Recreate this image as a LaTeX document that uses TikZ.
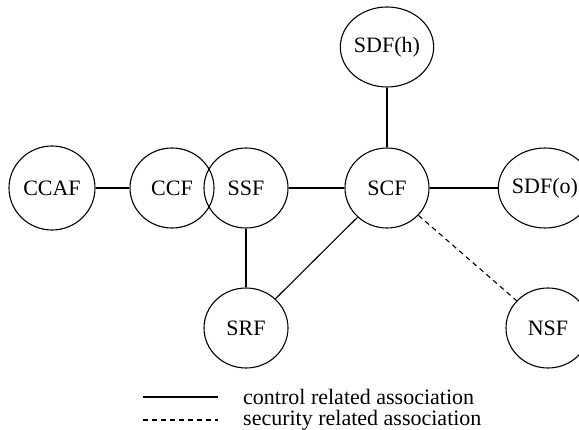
\documentclass[tikz,border=0pt]{standalone}
\usepackage{fontspec}
\setmainfont{Liberation Serif}
\usetikzlibrary{shapes.geometric, positioning}

\begin{document}
\begin{tikzpicture}[
  x=1pt, y=1pt,
  func/.style={draw, ellipse, line width=1.1pt, inner sep=0pt, minimum width=84pt, minimum height=80pt, font=\fontsize{22}{26}\selectfont},
  assoc/.style={line width=1.1pt},
  secassoc/.style={line width=1.1pt, dash pattern=on 5pt off 4pt},
  note/.style={anchor=west, inner sep=0pt, font=\fontsize{22}{24}\selectfont},
  on grid
]
\useasboundingbox (0,0) rectangle (579,-430);

% Central function
\node[func] (scf) at (387,-188) {SCF};

% Functions around it
\node[func, above=141pt of scf] (sdfh) {SDF(h)};
\node[func, right=158pt of scf] (sdfo) {SDF(o)};
\node[func, left=141pt of scf] (ssf) {SSF};
\node[func, left=74pt of ssf] (ccf) {CCF};
\node[func, left=120pt of ccf, minimum width=86pt, minimum height=84pt] (ccaf) {CCAF};
\node[func, below=140pt of ssf] (srf) {SRF};
\node[func, right=302pt of srf] (nsf) {NSF};

% Control related associations
\draw[assoc] (ccaf) -- (ccf);
\draw[assoc] (ssf) -- (scf);
\draw[assoc] (scf) -- (sdfh);
\draw[assoc] (scf) -- (sdfo);
\draw[assoc] (ssf) -- (srf);
\draw[assoc] (srf) -- (scf);

% Security related association
\draw[secassoc] (scf) -- (nsf);

% Legend
\coordinate (ctla) at (143,-397);
\coordinate (ctlb) at (218,-397);
\coordinate (seca) at (143,-420);
\coordinate (secb) at (218,-420);
\draw[assoc] (ctla) -- (ctlb);
\draw[secassoc] (seca) -- (secb);
\node[note, right=25pt of ctlb] (ctltxt) {control related association};
\node[note, right=25pt of secb] (sectxt) {security related association};

\end{tikzpicture}
\end{document}
